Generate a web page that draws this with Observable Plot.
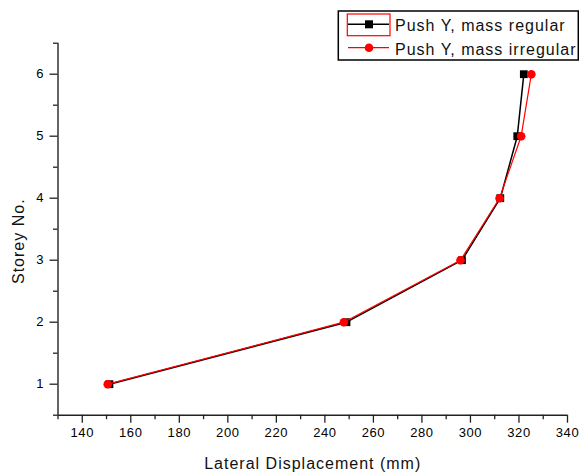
<!DOCTYPE html>
<html>
<head>
<meta charset="utf-8">
<script src="https://cdn.jsdelivr.net/npm/d3@7"></script>
<script src="https://cdn.jsdelivr.net/npm/@observablehq/plot@0.6"></script>
<style>
  html, body { margin: 0; padding: 0; background: #fff; }
</style>
</head>
<body>
<div id="chart"></div>
<script>
const storeys = [1, 2, 3, 4, 5, 6];
const regular = [151.2, 248.9, 296.5, 312.3, 319.3, 322.0];
const irregular = [150.5, 247.8, 295.9, 312.0, 320.9, 325.1];
const seriesNames = ["Push Y, mass regular", "Push Y, mass irregular"];
const xTicks = [140, 160, 180, 200, 220, 240, 260, 280, 300, 320, 340];
const xMinor = [130, 150, 170, 190, 210, 230, 250, 270, 290, 310, 330];
const yTicks = [1, 2, 3, 4, 5, 6];
const yMinor = [0.5, 1.5, 2.5, 3.5, 4.5, 5.5, 6.5];
const xTitle = "Lateral Displacement (mm)";
const yTitle = "Storey No.";

const regData = storeys.map((s, i) => ({x: regular[i], y: s}));
const irrData = storeys.map((s, i) => ({x: irregular[i], y: s}));

const chart = Plot.plot({
  width: 579,
  height: 475,
  marginLeft: 57.5,
  marginRight: 12,
  marginTop: 42.7,
  marginBottom: 60.3,
  x: {domain: [130, 340]},
  y: {domain: [0.5, 6.5]},
  style: {fontFamily: "'Liberation Sans', Arial, sans-serif", fontSize: "13px", color: "#000", background: "#fff"},
  marks: [
    Plot.axisX(xTicks, {tickSize: 8, tickPadding: 5, label: null, tickFormat: d => d, stroke: "#222", strokeWidth: 1.3, fill: "#000"}),
    Plot.axisX(xMinor, {tickSize: 4.5, text: null, label: null, stroke: "#222", strokeWidth: 1.3}),
    Plot.axisY(yTicks, {tickSize: 8, tickPadding: 6, label: null, tickFormat: d => d, stroke: "#222", strokeWidth: 1.3, fill: "#000"}),
    Plot.axisY(yMinor, {tickSize: 4.5, text: null, label: null, stroke: "#222", strokeWidth: 1.3}),
    Plot.ruleX([130], {stroke: "#222", strokeWidth: 1.4}),
    Plot.ruleY([0.5], {stroke: "#222", strokeWidth: 1.4}),
    Plot.line(regData, {x: "x", y: "y", stroke: "#000", strokeWidth: 1.5}),
    Plot.dot(regData, {x: "x", y: "y", symbol: "square", r: 4.4, fill: "#000"}),
    Plot.line(irrData, {x: "x", y: "y", stroke: "#ff0000", strokeWidth: 1.2}),
    Plot.dot(irrData, {x: "x", y: "y", symbol: "circle", r: 4.3, fill: "#ff0000"}),
    Plot.text([xTitle], {frameAnchor: "bottom", dy: 49, text: d => d, fontSize: 16, lineAnchor: "middle", textAnchor: "middle", fill: "#111"}),
    Plot.text([yTitle], {frameAnchor: "left", dx: -39, dy: 12, rotate: -90, text: d => d, fontSize: 16, lineAnchor: "middle", textAnchor: "middle", fill: "#111"})
  ]
});

document.getElementById("chart").appendChild(chart);

d3.select(chart).selectAll("text").style("letter-spacing", "0.6px");
d3.select(chart).selectAll("text").filter(function () { return this.textContent === xTitle || this.textContent === yTitle; })
  .style("letter-spacing", "1px");

// Legend (drawn inside the SVG)
const svg = d3.select(chart);
const lg = svg.append("g").attr("font-family", "'Liberation Sans', Arial, sans-serif").attr("text-anchor", "start");
lg.append("rect").attr("x", 338.3).attr("y", 11).attr("width", 240).attr("height", 49)
  .attr("fill", "#fff").attr("stroke", "#000").attr("stroke-width", 1.5);
lg.append("rect").attr("x", 347.3).attr("y", 14).attr("width", 42.7).attr("height", 21.7)
  .attr("fill", "none").attr("stroke", "#ff0000").attr("stroke-width", 1.2);
const rows = [
  {name: seriesNames[0], color: "#000", sym: "square", ly: 24.3, ty: 31},
  {name: seriesNames[1], color: "#ff0000", sym: "circle", ly: 47.7, ty: 55}
];
rows.forEach(r => {
  lg.append("line").attr("x1", 348).attr("x2", 389).attr("y1", r.ly).attr("y2", r.ly)
    .attr("stroke", r.color).attr("stroke-width", r.sym === "square" ? 1.5 : 1.2);
  if (r.sym === "square") {
    lg.append("rect").attr("x", 365).attr("y", r.ly - 4).attr("width", 8).attr("height", 8).attr("fill", r.color);
  } else {
    lg.append("circle").attr("cx", 369).attr("cy", r.ly).attr("r", 4.3).attr("fill", r.color);
  }
  lg.append("text").attr("x", 395).attr("y", r.ty).attr("font-size", 16)
    .attr("text-anchor", "start")
    .style("letter-spacing", "1px").attr("fill", "#111").text(r.name);
});
</script>
</body>
</html>
